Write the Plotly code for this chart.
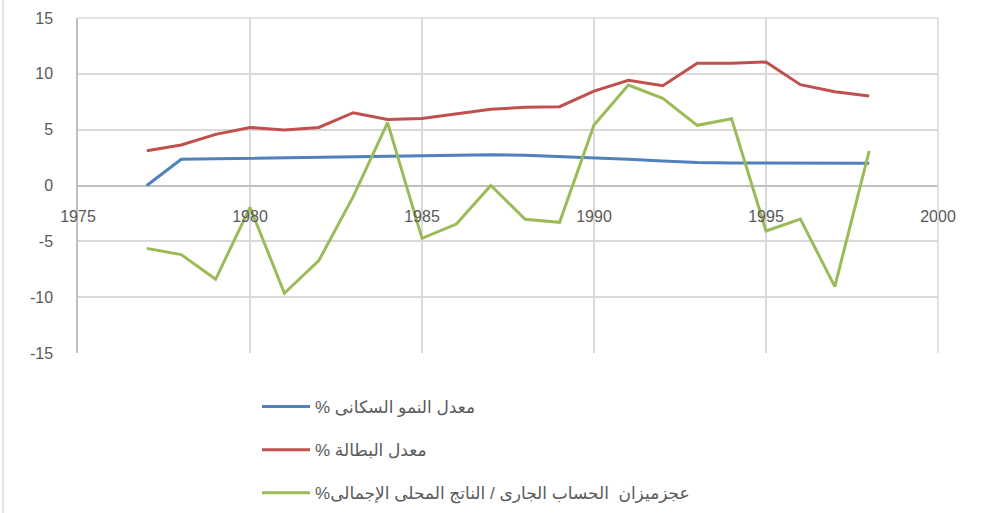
import plotly.graph_objects as go

years = list(range(1977, 1999))
pop_growth = [0, 2.35, 2.4, 2.45, 2.5, 2.55, 2.6, 2.65, 2.7, 2.72, 2.75, 2.7, 2.6, 2.5,
              2.35, 2.2, 2.07, 2.02, 2.0, 2.0, 2.0, 2.0]
unemployment = [3.12, 3.63, 4.58, 5.2, 4.97, 5.2, 6.52, 5.92, 6.0, 6.4, 6.82, 7.0, 7.06,
                8.46, 9.42, 8.94, 10.94, 10.95, 11.06, 9.03, 8.4, 8.01]
deficit = [-5.63, -6.19, -8.4, -1.95, -9.65, -6.73, -1.0, 5.63, -4.73, -3.45, 0.0, -3.03,
           -3.3, 5.42, 9.0, 7.8, 5.39, 5.98, -4.07, -3.0, -9.06, 3.09]

names = ["% معدل النمو السكانى", "% معدل البطالة",
         "%عجزميزان  الحساب الجارى / الناتج المحلى الإجمالى"]
colors = ["#4F81BD", "#C0504D", "#9BBB59"]
x_ticks = [1975, 1980, 1985, 1990, 1995, 2000]
x_labels = ["1975", "1980", "1985", "1990", "1995", "2000"]
y_ticks = [-15, -10, -5, 0, 5, 10, 15]
y_labels = ["-15", "-10", "-5", "0", "5", "10", "15"]

FONT = "Liberation Sans, DejaVu Sans, sans-serif"
W, H = 981, 513
# plot area in screen pixels
PX0, PX1, PY0, PY1 = 78, 938, 18, 353
L, T = PX0, PY0
R = W - PX1
B = H - PY1
PW, PH = PX1 - PX0, PY1 - PY0


def px(xs):
    return (xs - PX0) / PW


def py(ys):
    return (PY1 - ys) / PH


fig = go.Figure()
for i, (vals, nm, c) in enumerate(zip([pop_growth, unemployment, deficit], names, colors)):
    fig.add_trace(go.Scatter(x=years, y=vals, mode="lines", name=nm,
                             legendgroup=f"g{i}",
                             line=dict(color=c, width=3)))

fig.update_layout(
    width=W, height=H,
    margin=dict(l=L, r=R, t=T, b=B, autoexpand=False),
    paper_bgcolor="white", plot_bgcolor="white",
    font=dict(family=FONT, color="#595959", size=16),
    showlegend=True,
    legend=dict(x=px(257), y=py(389),
                xanchor="left", yanchor="top", tracegroupgap=18,
                itemwidth=48,
                font=dict(size=17, color="#595959", family=FONT),
                bgcolor="rgba(0,0,0,0)"),
    xaxis=dict(range=[1975, 2000], tickvals=x_ticks, ticktext=x_labels, showgrid=True,
               gridcolor="#D9D9D9", gridwidth=1.5, zeroline=False,
               anchor="free", position=0.5, showline=False,
               ticks="", ticklabelstandoff=19,
               tickfont=dict(size=16, color="#595959")),
    yaxis=dict(range=[-15, 15], tickvals=y_ticks, ticktext=y_labels, showgrid=True,
               gridcolor="#D9D9D9", gridwidth=1.5, zeroline=True,
               zerolinecolor="#BFBFBF", zerolinewidth=1.5,
               showline=True, linecolor="#BFBFBF", linewidth=1.5,
               ticks="", ticklabelstandoff=20,
               tickfont=dict(size=16, color="#595959")),
)

fig.add_shape(type="line", xref="paper", yref="paper",
              x0=px(3), x1=px(3), y0=py(H), y1=py(0),
              line=dict(color="#D9D9D9", width=1.5))
fig.add_shape(type="line", xref="paper", yref="paper",
              x0=1, x1=1, y0=0, y1=1,
              line=dict(color="#D9D9D9", width=1.5))
fig.add_shape(type="line", xref="paper", yref="paper",
              x0=0, x1=1, y0=1, y1=1,
              line=dict(color="#D9D9D9", width=1.5))

fig.write_html("out.html",
               config={"displayModeBar": False},
               post_script="document.body.style.margin='0';document.body.style.overflow='hidden';")
